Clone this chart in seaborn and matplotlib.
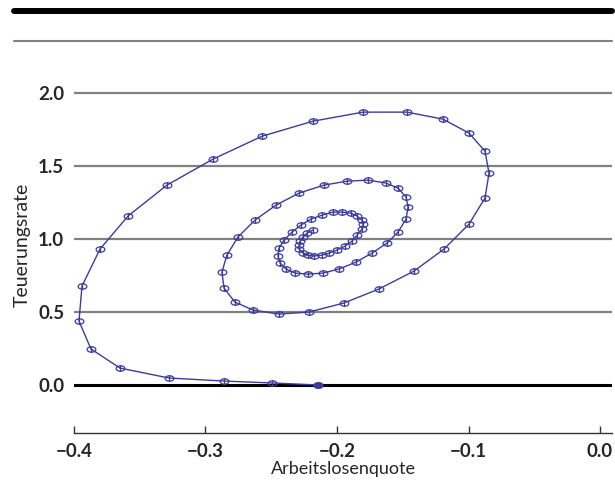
import numpy as np
import matplotlib
matplotlib.use("Agg")
import matplotlib.pyplot as plt
from matplotlib.path import Path
from matplotlib.lines import Line2D
import pandas as pd
import seaborn as sns

# Werte (Spirale, Reihenfolge = Zeit)
arbeitslosenquote = [
    -0.2144, -0.2494, -0.2859, -0.3278, -0.3650, -0.3871, -0.3962, -0.3939,
    -0.3802, -0.3589, -0.3293, -0.2943, -0.2570, -0.2183, -0.1802, -0.1468,
    -0.1194, -0.0996, -0.0875, -0.0844, -0.0875, -0.0996, -0.1186, -0.1414,
    -0.1681, -0.1947, -0.2213, -0.2441, -0.2639, -0.2776, -0.2859, -0.2875,
    -0.2837, -0.2753, -0.2624, -0.2464, -0.2289, -0.2099, -0.1924, -0.1764,
    -0.1627, -0.1536, -0.1475, -0.1460, -0.1475, -0.1536, -0.1620, -0.1734,
    -0.1856, -0.1985, -0.2106, -0.2221, -0.2319, -0.2388, -0.2433, -0.2449,
    -0.2441, -0.2403, -0.2342, -0.2274, -0.2198, -0.2114, -0.2030, -0.1962,
    -0.1894, -0.1848, -0.1810, -0.1802, -0.1810, -0.1848, -0.1886, -0.1939,
    -0.2000, -0.2061, -0.2114, -0.2175, -0.2221, -0.2259, -0.2289, -0.2289,
    -0.2281, -0.2259, -0.2228, -0.2183,
]
teuerungsrate = [
    0.000, 0.014, 0.027, 0.048, 0.116, 0.247, 0.438, 0.678,
    0.932, 1.158, 1.370, 1.548, 1.705, 1.808, 1.870, 1.870,
    1.822, 1.726, 1.603, 1.452, 1.281, 1.103, 0.932, 0.781,
    0.658, 0.562, 0.500, 0.486, 0.514, 0.568, 0.664, 0.774,
    0.890, 1.014, 1.130, 1.233, 1.315, 1.370, 1.397, 1.404,
    1.384, 1.349, 1.288, 1.219, 1.137, 1.048, 0.973, 0.904,
    0.842, 0.795, 0.767, 0.760, 0.767, 0.795, 0.836, 0.884,
    0.938, 0.993, 1.048, 1.096, 1.137, 1.164, 1.185, 1.185,
    1.178, 1.158, 1.130, 1.103, 1.068, 1.027, 0.986, 0.952,
    0.925, 0.904, 0.890, 0.884, 0.890, 0.904, 0.932, 0.959,
    0.986, 1.014, 1.041, 1.062,
]
x_ticks = [-0.4, -0.3, -0.2, -0.1, 0.0]
y_ticks = [0.0, 0.5, 1.0, 1.5, 2.0]

df = pd.DataFrame({"Arbeitslosenquote": arbeitslosenquote,
                   "Teuerungsrate": teuerungsrate})

sns.set_theme(style="white")
plt.rcParams["font.family"] = ["Lato", "DejaVu Sans"]
plt.rcParams["axes.unicode_minus"] = True

farbe = "#3c3c9c"

# Marker: Ellipse mit senkrechtem Strich
t = np.linspace(0, 2 * np.pi, 33)
verts = list(zip(np.cos(t), 0.62 * np.sin(t))) + [(0, -0.62), (0, 0.62)]
codes = [Path.MOVETO] + [Path.LINETO] * 32 + [Path.MOVETO, Path.LINETO]
ellipse = Path(verts, codes)
ellipse_voll = Path(list(zip(np.cos(t), 0.62 * np.sin(t))))

fig = plt.figure(figsize=(6.15, 4.8), dpi=100)
ax = fig.add_axes([0.1203, 0.0979, 0.8748, 0.784])

# Gitterlinien
for yt in y_ticks[1:]:
    ax.axhline(yt, color="#808080", lw=1.6, zorder=0)
ax.axhline(0, color="black", lw=2.2, zorder=0)

sns.lineplot(data=df, x="Arbeitslosenquote", y="Teuerungsrate",
             estimator=None, sort=False, ax=ax, color=farbe, lw=1,
             marker=ellipse, markersize=6.3, markerfacecolor="none",
             markeredgecolor=farbe, markeredgewidth=0.9)
ax.plot(arbeitslosenquote[0], teuerungsrate[0], marker=ellipse_voll,
        markersize=6.3, color=farbe, ls="none")

ax.set_xlim(-0.4, 0.0091)
ax.set_ylim(-0.329, 2.25)

ax.set_xticks(x_ticks)
ax.set_xticklabels([f"{v:.1f}".replace("-", "\u2212") for v in x_ticks],
                   fontweight="bold", fontsize=13.5)
ax.set_yticks(y_ticks)
ax.set_yticklabels([f"{v:.1f}" for v in y_ticks],
                   fontweight="bold", fontsize=13.5)

ax.tick_params(axis="x", direction="in", length=5, width=1,
               color="#333333", pad=7, bottom=True)
ax.tick_params(axis="y", length=0, pad=7)

for s in ["left", "top", "right"]:
    ax.spines[s].set_visible(False)
ax.spines["bottom"].set_color("#333333")
ax.spines["bottom"].set_linewidth(1)

ax.set_xlabel("Arbeitslosenquote", fontsize=13, labelpad=1)
ax.set_ylabel("Teuerungsrate", fontsize=14, labelpad=5)

# Linien oben
fig.add_artist(Line2D([14 / 615, 612 / 615], [1 - 11 / 480] * 2,
                      color="black", lw=4.3))
fig.add_artist(Line2D([14 / 615, 612 / 615], [1 - 41 / 480] * 2,
                      color="#808080", lw=1.5))

fig.savefig("out.png", dpi=100)
